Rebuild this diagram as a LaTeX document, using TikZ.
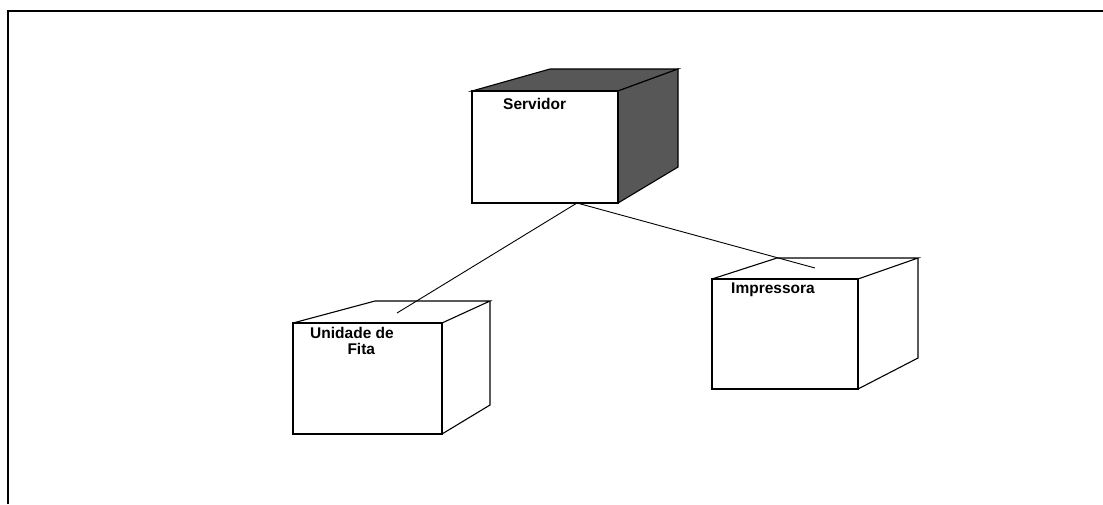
\documentclass[tikz,border=0pt]{standalone}
\usepackage{fontspec}
\setmainfont{Liberation Sans}
\begin{document}
\begin{tikzpicture}[x=1pt,y=-1pt,
  edge/.style={line width=1.1pt,line join=miter},
  link/.style={line width=0.9pt},
  shaded/.style={fill=black!66,draw=black,line width=1.1pt},
  label/.style={font=\bfseries\fontsize{15.5}{16}\selectfont,inner sep=0pt,anchor=north west}]
\useasboundingbox (0,0) rectangle (1103,504);
% sheet border (top and left edges)
\draw[line width=1.6pt] (8,504) -- (8,11) -- (1103,11);

% ---- Servidor (shaded node) ----
\coordinate (s1) at (472,91);  \coordinate (s2) at (618,91);
\coordinate (s3) at (618,203); \coordinate (s4) at (472,203);
\coordinate (s5) at (550,69);  \coordinate (s6) at (678,69);
\coordinate (s7) at (678,167);
\draw[shaded] (s1) -- (s5) -- (s6) -- (s2) -- cycle;
\draw[shaded] (s2) -- (s6) -- (s7) -- (s3) -- cycle;
\draw[edge,fill=white] (s1) rectangle (s3);
\node[label] (srv) at (503,98) {Servidor};

% ---- Unidade de Fita ----
\coordinate (u1) at (293,323); \coordinate (u2) at (442,323);
\coordinate (u3) at (442,434); \coordinate (u4) at (293,434);
\coordinate (u5) at (375,301); \coordinate (u6) at (490,301);
\coordinate (u7) at (490,405);
\draw[edge] (u1) -- (u5) -- (u6) -- (u2);
\draw[edge] (u6) -- (u7) -- (u3);
\draw[edge] (u1) rectangle (u3);
\node[label,align=center,anchor=north] (fita) at (352,327) {Unidade de\\\hspace*{1.2em}Fita};

% ---- Impressora ----
\coordinate (i1) at (712,279); \coordinate (i2) at (858,279);
\coordinate (i3) at (858,389); \coordinate (i4) at (712,389);
\coordinate (i5) at (777,258); \coordinate (i6) at (918,258);
\coordinate (i7) at (918,358);
\draw[edge] (i1) -- (i5) -- (i6) -- (i2);
\draw[edge] (i6) -- (i7) -- (i3);
\draw[edge] (i1) rectangle (i3);
\node[label] (imp) at (731,283) {Impressora};

% ---- connections ----
\coordinate (srv-port) at (577,203);
\coordinate (fita-port) at (397,313);
\coordinate (imp-port) at (815,268);
\draw[link] (srv-port) -- (fita-port);
\draw[link] (srv-port) -- (imp-port);
\end{tikzpicture}
\end{document}
